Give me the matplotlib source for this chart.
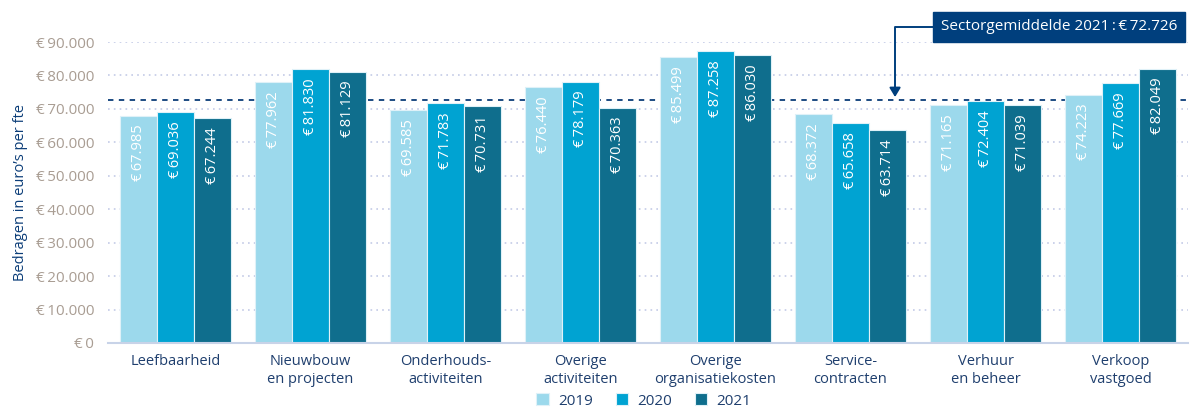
import matplotlib
matplotlib.use("Agg")
import matplotlib.pyplot as plt
import numpy as np
from matplotlib.ticker import FuncFormatter, MultipleLocator

categories = ["Leefbaarheid", "Nieuwbouw\nen projecten", "Onderhouds-\nactiviteiten",
              "Overige\nactiviteiten", "Overige\norganisatiekosten", "Service-\ncontracten",
              "Verhuur\nen beheer", "Verkoop\nvastgoed"]
years = ["2019", "2020", "2021"]
v2019 = [67985, 77962, 69585, 76440, 85499, 68372, 71165, 74223]
v2020 = [69036, 81830, 71783, 78179, 87258, 65658, 72404, 77669]
v2021 = [67244, 81129, 70731, 70363, 86030, 63714, 71039, 82049]
sector_avg = 72726
sector_label = "Sectorgemiddelde 2021\u2009:\u2009€\u200972.726"

colors = ["#9cd9ec", "#00a3d2", "#0f6e8d"]
plt.rcParams['font.family'] = ['Open Sans', 'DejaVu Sans']

fig = plt.figure(figsize=(11.92, 4.12), dpi=100)
ax = fig.add_axes([108/1192, 1-343/412, (1188-108)/1192, (343-42)/412])

def fmt_eur(v):
    return "€\u2009" + f"{int(round(v)):,}".replace(",", ".")

x = np.arange(len(categories))
w = 0.275
for i, (vals, c, yr) in enumerate(zip([v2019, v2020, v2021], colors, years)):
    pos = x + (i - 1) * w
    ax.bar(pos, vals, width=w, color=c, edgecolor="#dff1f8", linewidth=0.8, label=yr, zorder=3)
    for xp, v in zip(pos, vals):
        ax.text(xp, v - 2700, fmt_eur(v), rotation=90, ha="center", va="top",
                color="white", fontsize=10.5, zorder=4)

ax.set_xlim(-0.5, len(categories) - 0.5)
ax.set_ylim(0, 90000)
ax.yaxis.set_major_locator(MultipleLocator(10000))
ax.yaxis.set_major_formatter(FuncFormatter(lambda v, p: fmt_eur(v)))
ax.grid(axis="y", linestyle=(0, (1, 2.5)), color="#c3cbe6", linewidth=1.2, zorder=0)
for s in ["top", "right", "left"]:
    ax.spines[s].set_visible(False)
ax.spines["bottom"].set_color("#c8d3e8")
ax.spines["bottom"].set_linewidth(1.5)
ax.spines["bottom"].set_zorder(5)
ax.tick_params(axis="y", length=0, labelsize=11, labelcolor="#a99d93", pad=10)
ax.tick_params(axis="x", length=0, labelsize=10.5, labelcolor="#1f3f6e", pad=8)
ax.set_xticks(x)
ax.set_xticklabels(categories, linespacing=1.3)
ax.set_ylabel("Bedragen in euro’s per fte", color="#0b3d78", fontsize=10.5)
ax.yaxis.set_label_coords(-0.074, 0.5)

ax.axhline(sector_avg, color="#0b3d78", linestyle=(0, (3, 3)), linewidth=1.3, zorder=2)

ax.annotate(sector_label, xy=(5.33, sector_avg + 800), xycoords="data",
            xytext=(1059/1192, 1-27/412), textcoords="figure fraction",
            ha="center", va="center", color="white", fontsize=11,
            bbox=dict(boxstyle="square,pad=0.5", fc="#003f7d", ec="#003f7d"),
            arrowprops=dict(arrowstyle="-|>,head_length=0.5,head_width=0.3", color="#003f7d",
                            lw=1.4, connectionstyle="angle,angleA=0,angleB=90,rad=0",
                            shrinkA=0, shrinkB=0),
            annotation_clip=False, zorder=6)

leg = fig.legend(loc="lower center", bbox_to_anchor=(0.54, -0.025), ncol=3, frameon=False,
                 fontsize=11, handlelength=0.8, handleheight=0.8, columnspacing=1.5,
                 handletextpad=0.6)
for t in leg.get_texts():
    t.set_color("#1f3f6e")

fig.savefig("out.png", dpi=100)
